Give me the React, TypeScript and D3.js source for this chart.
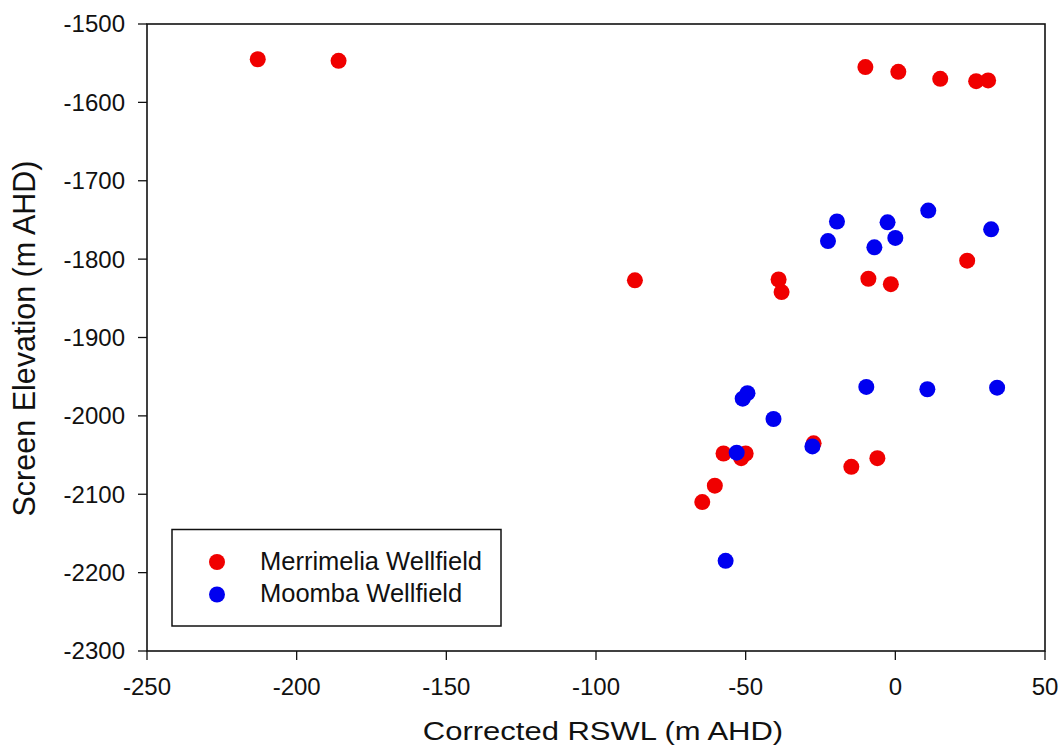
import React from "react";
import * as d3 from "d3";

const merrimeliaX = [-213, -186, -10, 1, 15, 27, 31, -87, -39, -38, -9, -1.5, 24, -57.4, -51.5, -50, -27.3, -14.7, -6, -60.3, -64.5];
const merrimeliaY = [-1545, -1547, -1555, -1561, -1570, -1573, -1572, -1827, -1826, -1842, -1825, -1832, -1802, -2048, -2054, -2048, -2035, -2065, -2054, -2089, -2110];
const moombaX = [-19.5, -22.5, -2.6, 0, -7, 11, 32, -49.4, -51, -40.7, -9.7, 10.7, 34, -53, -27.7, -56.7];
const moombaY = [-1752, -1777, -1753, -1773, -1785, -1738, -1762, -1971, -1978, -2004, -1963, -1966, -1964, -2047, -2039, -2185];

const xTicks = [-250, -200, -150, -100, -50, 0, 50];
const yTicks = [-1500, -1600, -1700, -1800, -1900, -2000, -2100, -2200, -2300];

const seriesNames = ["Merrimelia Wellfield", "Moomba Wellfield"];
const seriesColors = ["#f00000", "#0000f0"];

const xTitle = "Corrected RSWL (m AHD)";
const yTitle = "Screen Elevation (m AHD)";

export default function App() {
  const W = 1059;
  const H = 753;
  const left = 147, right = 1045, top = 24, bottom = 651;
  const x = d3.scaleLinear().domain([-250, 50]).range([left, right]);
  const y = d3.scaleLinear().domain([-2300, -1500]).range([bottom, top]);
  const font = "Arial, 'Liberation Sans', sans-serif";
  const tick = 9;
  const r = 8;

  const series = [
    { xs: merrimeliaX, ys: merrimeliaY, color: seriesColors[0] },
    { xs: moombaX, ys: moombaY, color: seriesColors[1] },
  ];

  return (
    <svg width={W} height={H} style={{ position: "absolute", left: 0, top: 0, background: "#fff" }} fontFamily={font}>
      <rect x={0} y={0} width={W} height={H} fill="#fff" />
      {series.map((s, si) => (
        <g key={si}>
          {s.xs.map((v, i) => (
            <circle key={i} cx={x(v)} cy={y(s.ys[i])} r={r} fill={s.color} />
          ))}
        </g>
      ))}
      <rect x={left} y={top} width={right - left} height={bottom - top} fill="none" stroke="#111" strokeWidth={1.6} />
      {xTicks.map((t) => (
        <g key={t}>
          <line x1={x(t)} x2={x(t)} y1={bottom} y2={bottom + tick} stroke="#111" strokeWidth={1.3} />
          <text x={x(t)} y={695} textAnchor="middle" fontSize={24} fill="#111">{t}</text>
        </g>
      ))}
      {yTicks.map((t) => (
        <g key={t}>
          <line x1={left - tick} x2={left} y1={y(t)} y2={y(t)} stroke="#111" strokeWidth={1.3} />
          <text x={125} y={y(t)} dy="0.35em" textAnchor="end" fontSize={24} fill="#111">{t}</text>
        </g>
      ))}
      <text transform={`translate(${(left + right) / 2 + 7},740) scale(1,0.84)`} textAnchor="middle" fontSize={31} fill="#111">{xTitle}</text>
      <text transform={`translate(35,${(top + bottom) / 2 + 1}) rotate(-90)`} textAnchor="middle" fontSize={30.5} fill="#111">{yTitle}</text>
      <rect x={172} y={529.5} width={329} height={96.5} fill="#fff" stroke="#111" strokeWidth={1.5} />
      {seriesNames.map((n, i) => (
        <g key={n}>
          <circle cx={217} cy={562 + i * 32.5} r={r} fill={seriesColors[i]} />
          <text x={260} y={570 + i * 32} fontSize={25.5} fill="#111">{n}</text>
        </g>
      ))}
    </svg>
  );
}
